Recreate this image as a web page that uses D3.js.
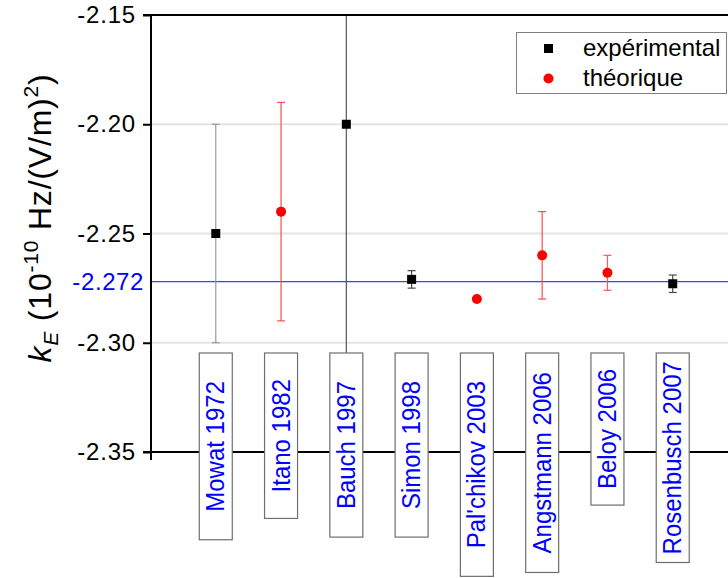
<!DOCTYPE html>
<html><head><meta charset="utf-8">
<script src="https://cdn.jsdelivr.net/npm/d3@7"></script>
<style>
html,body{margin:0;padding:0;background:#fff;}
svg{display:block;font-family:Arial,"Liberation Sans",sans-serif;}
</style></head>
<body>
<svg id="chart" width="728" height="578"></svg>
<script>
// ---- data ----
const studies = ["Mowat 1972","Itano 1982","Bauch 1997","Simon 1998","Pal'chikov 2003","Angstmann 2006","Beloy 2006","Rosenbusch 2007"];
const kinds   = ["exp","theo","exp","exp","theo","theo","theo","exp"];
const values  = [-2.250,-2.240,-2.200,-2.271,-2.280,-2.260,-2.268,-2.273];
const errors  = [0.050,0.050,0.200,0.004,0,0.020,0.008,0.004];
const yTicks  = [-2.35,-2.30,-2.25,-2.20,-2.15];
const yTickLabels = ["-2.35","-2.30","-2.25","-2.20","-2.15"];
const refValue = -2.272;
const refLabel = "-2.272";
const legendLabels = ["expérimental","théorique"];
// styles
const errColors = ["#9a9a9a","#ff4a4a","#555555","#4a4a4a","#ff4a4a","#ff4a4a","#ff5a5a","#4a4a4a"];
const labelPads = [28,26,28,28,28,19,16,8];

const svg = d3.select("#chart");
const mLeft = 151, mTop = 15, mBottom = 452, mRight = 738;

const x = d3.scaleLinear().domain([0, studies.length + 1]).range([mLeft - 0.5, mRight]);
const y = d3.scaleLinear().domain([-2.35, -2.15]).range([mBottom, mTop]);

svg.append("defs").append("clipPath").attr("id","plotclip")
  .append("rect").attr("x", mLeft).attr("y", mTop).attr("width", mRight-mLeft).attr("height", mBottom-mTop);

// grid lines
svg.append("g").selectAll("line").data(yTicks.filter(t => t > -2.345 && t < -2.155)).join("line")
  .attr("x1", mLeft).attr("x2", mRight).attr("y1", d => y(d)).attr("y2", d => y(d))
  .attr("stroke", "#e4e4e4").attr("stroke-width", 2);

// reference line
svg.append("line").attr("x1", mLeft).attr("x2", mRight)
  .attr("y1", y(refValue)).attr("y2", y(refValue))
  .attr("stroke", "#4040ff").attr("stroke-width", 1.2);
svg.append("text").attr("x", 144).attr("y", y(refValue)).attr("dy", "0.36em")
  .attr("text-anchor", "end").attr("fill", "#0000ff").attr("font-size", 24)
  .attr("letter-spacing", 0.6).text(refLabel);

const pts = studies.map((s, i) => ({s, i, kind: kinds[i], v: values[i], e: errors[i], c: errColors[i]}));

// error bars
const eb = svg.append("g").attr("clip-path", "url(#plotclip)");
pts.filter(d => d.e > 0).forEach(d => {
  const cx = x(d.i + 1);
  const g = eb.append("g").attr("stroke", d.c).attr("stroke-width", 1.2).attr("fill", "none");
  g.append("line").attr("x1", cx).attr("x2", cx).attr("y1", y(d.v + d.e)).attr("y2", y(d.v - d.e));
  g.append("line").attr("x1", cx - 4).attr("x2", cx + 4).attr("y1", y(d.v + d.e)).attr("y2", y(d.v + d.e));
  g.append("line").attr("x1", cx - 4).attr("x2", cx + 4).attr("y1", y(d.v - d.e)).attr("y2", y(d.v - d.e));
});

// markers
svg.append("g").selectAll("rect").data(pts.filter(d => d.kind === "exp")).join("rect")
  .attr("x", d => x(d.i + 1) - 4.5).attr("y", d => y(d.v) - 4.5)
  .attr("width", 9).attr("height", 9).attr("fill", "#000");
svg.append("g").selectAll("circle").data(pts.filter(d => d.kind === "theo")).join("circle")
  .attr("cx", d => x(d.i + 1)).attr("cy", d => y(d.v)).attr("r", 5).attr("fill", "#ff0000");

// axes
const yAxis = d3.axisLeft(y).tickValues(yTicks).tickFormat((d, i) => yTickLabels[i])
  .tickSize(8).tickPadding(7).tickSizeOuter(0);
const ga = svg.append("g").attr("transform", `translate(${mLeft},0)`).call(yAxis);
ga.select(".domain").remove();
ga.selectAll(".tick line").attr("stroke", "#000").attr("stroke-width", 2);
ga.selectAll(".tick text").attr("font-size", 24).attr("fill", "#000")
  .attr("font-family", "Arial, 'Liberation Sans', sans-serif").attr("letter-spacing", 0.8);
// axis frame lines
svg.append("line").attr("x1", mLeft).attr("x2", mLeft).attr("y1", mTop - 1).attr("y2", mBottom + 8)
  .attr("stroke", "#000").attr("stroke-width", 2);
svg.append("line").attr("x1", mLeft - 8).attr("x2", mRight).attr("y1", mTop).attr("y2", mTop)
  .attr("stroke", "#000").attr("stroke-width", 2);
svg.append("line").attr("x1", mLeft - 8).attr("x2", mRight).attr("y1", mBottom).attr("y2", mBottom)
  .attr("stroke", "#000").attr("stroke-width", 2);

// y axis title
const title = svg.append("text").attr("transform", `translate(51,218) rotate(-90)`)
  .attr("text-anchor", "middle").attr("font-size", 32).attr("letter-spacing", 0.8).attr("fill", "#000");
title.append("tspan").attr("font-style", "italic").text("k");
title.append("tspan").attr("font-style", "italic").attr("font-size", 21).attr("dy", 7).text("E");
title.append("tspan").attr("dy", -7).text(" (10");
title.append("tspan").attr("font-size", 21).attr("dy", -13).text("-10");
title.append("tspan").attr("dy", 13).text(" Hz/(V/m)");
title.append("tspan").attr("font-size", 21).attr("dy", -13).text("2");
title.append("tspan").attr("dy", 13).text(")");

// label boxes
const boxTop = 353;
const lb = svg.append("g");
pts.forEach(d => {
  const cx = x(d.i + 1);
  const g = lb.append("g");
  const rect = g.append("rect");
  const t = g.append("text").attr("font-size", 24).attr("fill", "#0000ff").attr("text-anchor", "middle").text(d.s);
  const len = t.node().getComputedTextLength();
  const h = len + 2 * labelPads[d.i];
  rect.attr("x", cx - 16.5).attr("y", boxTop).attr("width", 33).attr("height", h)
    .attr("fill", "#fff").attr("stroke", "#6e6e6e").attr("stroke-width", 1.2);
  t.attr("transform", `translate(${cx + 8.5},${boxTop + h / 2}) rotate(-90) scale(1,1.1)`);
});

// legend
const lg = svg.append("g");
lg.append("rect").attr("x", 516.5).attr("y", 32.5).attr("width", 210).attr("height", 61)
  .attr("fill", "#fff").attr("stroke", "#808080").attr("stroke-width", 1);
lg.append("rect").attr("x", 544).attr("y", 44).attr("width", 9).attr("height", 9).attr("fill", "#000");
lg.append("circle").attr("cx", 548.5).attr("cy", 78.5).attr("r", 5).attr("fill", "#ff0000");
lg.selectAll("text.lt").data(legendLabels).join("text").attr("class", "lt")
  .attr("x", 583).attr("y", (d, i) => 56 + i * 30).attr("font-size", 24).attr("fill", "#000").text(d => d);
</script>
</body></html>
